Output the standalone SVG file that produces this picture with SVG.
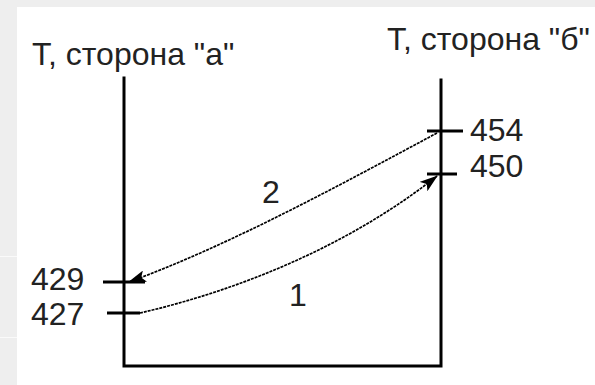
<svg xmlns="http://www.w3.org/2000/svg" width="595" height="385" viewBox="0 0 595 385">
<style>
.ax{stroke:#000;stroke-width:3;fill:none;stroke-linecap:square}
.tk{stroke:#000;stroke-width:3;fill:none}
.cv{stroke:#000;stroke-width:1.7;fill:none;stroke-dasharray:3 1}
.t{font-family:"Liberation Sans",Arial,sans-serif;font-size:32px;fill:#222}
</style>
<defs>
<marker id="ah" viewBox="0 0 18 12" refX="17" refY="6" markerWidth="18" markerHeight="12" markerUnits="userSpaceOnUse" orient="auto">
<path d="M0,0 L18,6 L0,12 L4,6 Z" fill="#000"/>
</marker>
</defs>
<rect x="0" y="0" width="595" height="385" fill="#eeeeee"/>
<rect x="17" y="7" width="578" height="378" fill="#fff"/>
<line x1="0" y1="256.5" x2="17" y2="256.5" stroke="#fafafa" stroke-width="1"/>
<line x1="0" y1="337.5" x2="17" y2="337.5" stroke="#fafafa" stroke-width="1"/>
<g id="axes">
<path class="ax" d="M124,78 V366 H441 V80"/>
</g>
<g id="title-a"><text class="t" x="32" y="65">T, сторона "а"</text></g>
<g id="title-b"><text class="t" x="387" y="50">T, сторона "б"</text></g>
<g id="tick-454"><line class="tk" x1="427" y1="131" x2="463" y2="131"/><text class="t" x="470" y="141">454</text></g>
<g id="tick-450"><line class="tk" x1="427" y1="174" x2="457" y2="174"/><text class="t" x="470" y="177">450</text></g>
<g id="tick-429"><line class="tk" x1="103" y1="282" x2="145" y2="282"/><text class="t" x="31" y="290">429</text></g>
<g id="tick-427"><line class="tk" x1="107" y1="313" x2="140" y2="313"/><text class="t" x="31" y="325">427</text></g>
<g id="connectors">
<path class="cv" d="M140,313 C240,290 350,245 437,176" marker-end="url(#ah)"/>
<path class="cv" d="M437,133 C340,185 230,245 129,282" marker-end="url(#ah)"/>
</g>
<g id="label-2"><text class="t" x="262" y="203">2</text></g>
<g id="label-1"><text class="t" x="289" y="306">1</text></g>
</svg>
